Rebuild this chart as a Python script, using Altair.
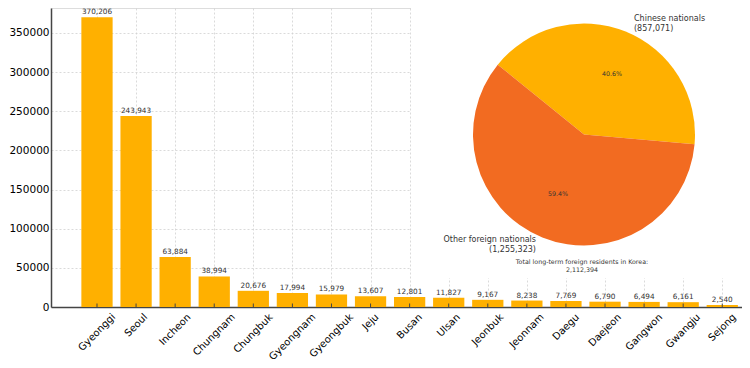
import math
import altair as alt
import pandas as pd

# ---------------- data ----------------
regions = ["Gyeonggi", "Seoul", "Incheon", "Chungnam", "Chungbuk", "Gyeongnam",
           "Gyeongbuk", "Jeju", "Busan", "Ulsan", "Jeonbuk", "Jeonnam", "Daegu",
           "Daejeon", "Gangwon", "Gwangju", "Sejong"]
residents = [370206, 243943, 63884, 38994, 20676, 17994, 15979, 13607, 12801,
             11827, 9167, 8238, 7769, 6790, 6494, 6161, 2540]
y_ticks = [0, 50000, 100000, 150000, 200000, 250000, 300000, 350000]
pie_groups = ["Chinese nationals", "Other foreign nationals"]
pie_values = [857071, 1255323]
total_label = "Total long-term foreign residents in Korea:"

# ---------------- layout / style ----------------
FONT = "DejaVu Sans"
YELLOW = "#FFB000"
ORANGE = "#F26B21"
W, H = 691, 299
XMIN, XMAX = -1.177, 16.505
YMAX = 381934
PX_PER_UNIT = W / (XMAX - XMIN)
LABEL_FS = 10.5
XLAB_FS = 10

# approximate DejaVu Sans advance widths (em) to centre rotated labels
_adv = {"G": .775, "y": .592, "e": .615, "o": .612, "n": .634, "g": .635, "i": .278,
        "S": .635, "u": .634, "l": .278, "I": .295, "c": .550, "h": .634, "C": .698,
        "a": .613, "m": .974, "b": .635, "k": .579, "J": .295, "j": .278, "B": .686,
        "s": .521, "U": .732, "r": .411, "D": .770, "d": .635, "w": .818}


def label_shift(t):
    w = sum(_adv.get(ch, 0.6) for ch in t) * XLAB_FS
    h = XLAB_FS * 1.0
    return (0.7071 * (w - h) / 2) / PX_PER_UNIT


df = pd.DataFrame({"region": regions, "value": residents})
df["i"] = range(len(regions))
df["xl"] = [i + label_shift(r) for i, r in zip(df["i"], regions)]

grid = dict(gridDash=[2, 2], gridColor="#d0d0d0", gridWidth=0.8)
x_axis = alt.Axis(values=list(range(len(regions))), labels=False, ticks=False,
                  grid=True, title=None, domainColor="#444", domainWidth=1.5, **grid)
y_axis = alt.Axis(values=y_ticks, format="d", grid=True, ticks=False, title=None,
                  labelPadding=2, labelFontSize=LABEL_FS, labelColor="black",
                  labelFont=FONT, domainColor="#444", domainWidth=1.5, **grid)
x_scale = alt.Scale(domain=[XMIN, XMAX], nice=False, zero=False)
y_scale = alt.Scale(domain=[0, YMAX], nice=False)

base = alt.Chart(df).transform_calculate(x0="datum.i - 0.4", x1="datum.i + 0.4")

# white background of the inset pie (hides grid there)
cover = alt.Chart(pd.DataFrame({"k": [0]})).mark_rect(color="white").encode(
    x=alt.value(360), x2=alt.value(W), y=alt.value(0), y2=alt.value(270))

bars = base.mark_bar(color=YELLOW).encode(
    x=alt.X("x0:Q", scale=x_scale, axis=x_axis),
    x2="x1:Q",
    y=alt.Y("value:Q", scale=y_scale, axis=y_axis),
    y2=alt.datum(0),
)

ticks = base.mark_rule(color="#444", strokeWidth=1).encode(
    x=alt.X("i:Q", scale=x_scale, axis=x_axis),
    y=alt.value(H), y2=alt.value(H - 3.5),
)

vals = base.mark_text(baseline="bottom", dy=-1, fontSize=7.3, color="#333",
                      font=FONT).encode(
    x=alt.X("i:Q", scale=x_scale, axis=x_axis),
    y=alt.Y("value:Q", scale=y_scale, axis=y_axis),
    text=alt.Text("value:Q", format=",d"),
)

xlabels = base.mark_text(align="right", baseline="top", angle=315,
                         fontSize=XLAB_FS, color="black", font=FONT).encode(
    x=alt.X("xl:Q", scale=x_scale, axis=x_axis),
    y=alt.value(H + 5),
    text="region:N",
)

# ---------------- pie ----------------
total = sum(pie_values)
pie_df = pd.DataFrame({"group": pie_groups, "value": pie_values, "ord": [0, 1]})
pie_df["label"] = [f"{g}\n({v:,})" for g, v in zip(pie_groups, pie_values)]
pie_df["pct"] = [f"{v / total * 100:.1f}%" for v in pie_values]

CX, CY, R = 533, 126.5, 111
start = math.radians(309)

pie = alt.Chart(pie_df).mark_arc(outerRadius=R, strokeWidth=0).encode(
    theta=alt.Theta("value:Q", stack=True,
                    scale=alt.Scale(range=[start, start + 2 * math.pi])),
    color=alt.Color("group:N", scale=alt.Scale(domain=pie_groups,
                                               range=[YELLOW, ORANGE]), legend=None),
    order=alt.Order("ord:Q"),
    x=alt.value(CX), y=alt.value(CY),
)

pie_txt_common = dict(fontSize=8, color="#333", font=FONT, lineBreak="\n",
                      lineHeight=9.5, baseline="middle")
lab_cn = alt.Chart(pie_df).transform_filter("datum.ord == 0").mark_text(
    align="left", **pie_txt_common).encode(
    x=alt.value(583), y=alt.value(11), text="label:N")
lab_ot = alt.Chart(pie_df).transform_filter("datum.ord == 1").mark_text(
    align="right", **pie_txt_common).encode(
    x=alt.value(485), y=alt.value(232), text="label:N")

pct_cn = alt.Chart(pie_df).transform_filter("datum.ord == 0").mark_text(
    fontSize=6.3, color="#333", font=FONT).encode(
    x=alt.value(561), y=alt.value(66), text="pct:N")
pct_ot = alt.Chart(pie_df).transform_filter("datum.ord == 1").mark_text(
    fontSize=6.3, color="#333", font=FONT).encode(
    x=alt.value(507), y=alt.value(186), text="pct:N")

tot_df = pd.DataFrame({"t": [f"{total_label}\n{total:,}"]})
tot = alt.Chart(tot_df).mark_text(fontSize=6.3, color="#333", font=FONT,
                                  lineBreak="\n", lineHeight=7.5,
                                  baseline="middle").encode(
    x=alt.value(531), y=alt.value(254), text="t:N")

chart = alt.layer(cover, bars, ticks, vals, xlabels, pie, lab_cn, lab_ot,
                  pct_cn, pct_ot, tot).properties(
    width=W, height=H,
    autosize=alt.AutoSizeParams(type="none"),
    padding={"left": 43, "top": 0, "right": 0, "bottom": 60},
).configure_view(stroke=None).configure(font=FONT)

chart.save("out.html", embed_options={"renderer": "svg", "actions": False})
